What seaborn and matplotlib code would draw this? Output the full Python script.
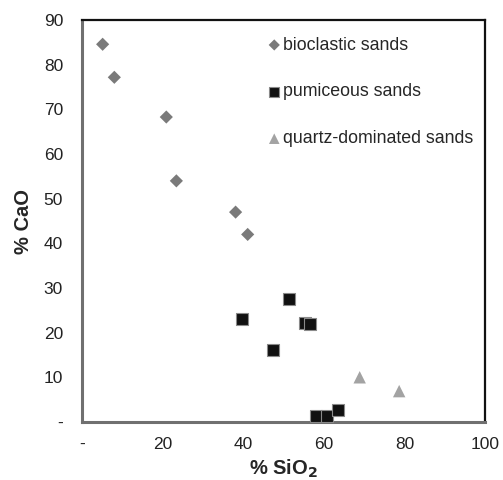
import matplotlib
matplotlib.use("Agg")
import matplotlib.pyplot as plt
import seaborn as sns
import pandas as pd

groups = ["bioclastic sands", "pumiceous sands", "quartz-dominated sands"]

bio_sio2 = [5.0, 7.9, 20.8, 23.3, 38.0, 41.0]
bio_cao = [84.6, 77.2, 68.3, 54.0, 47.0, 42.0]

pum_sio2 = [51.3, 39.5, 55.2, 56.4, 47.4, 57.9, 60.6, 63.4]
pum_cao = [27.5, 23.0, 22.1, 21.9, 16.1, 1.4, 1.4, 2.7]

qtz_sio2 = [68.8, 78.6]
qtz_cao = [10.0, 6.9]

x_ticks = [0, 20, 40, 60, 80, 100]
x_labels = ["-", "20", "40", "60", "80", "100"]
y_ticks = [0, 10, 20, 30, 40, 50, 60, 70, 80, 90]
y_labels = ["-", "10", "20", "30", "40", "50", "60", "70", "80", "90"]

df = pd.DataFrame({
    "SiO2": bio_sio2 + pum_sio2 + qtz_sio2,
    "CaO": bio_cao + pum_cao + qtz_cao,
    "group": [groups[0]] * len(bio_sio2) + [groups[1]] * len(pum_sio2) + [groups[2]] * len(qtz_sio2),
})

sns.set_style("white")
plt.rcParams["font.family"] = ["Liberation Sans", "DejaVu Sans"]

fig = plt.figure(figsize=(5.03, 4.80), dpi=100)
ax = fig.add_axes([0.164, 0.121, 0.801, 0.837])

palette = {groups[0]: "#7a7a7a", groups[1]: "#111111", groups[2]: "#a3a3a3"}
markers = {groups[0]: "D", groups[1]: "s", groups[2]: "^"}

for g, size in zip(groups, [45, 75, 80]):
    sub = df[df["group"] == g]
    sns.scatterplot(data=sub, x="SiO2", y="CaO", color=palette[g], marker=markers[g],
                    s=size, edgecolor="#8a8a8a" if g == groups[1] else "none",
                    linewidth=0.8 if g == groups[1] else 0, label=g, ax=ax, zorder=3)

ax.set_xlim(0, 100)
ax.set_ylim(0, 90)
ax.set_xticks(x_ticks)
ax.set_xticklabels(x_labels)
ax.set_yticks(y_ticks)
ax.set_yticklabels(y_labels)
ax.tick_params(axis="both", length=0, labelsize=12.5, colors="#222222")
ax.tick_params(axis="x", pad=11)
ax.tick_params(axis="y", pad=14)

ax.set_xlabel("% SiO$_\\mathbf{2}$", fontsize=14.5, fontweight="bold", labelpad=4)
ax.set_ylabel("% CaO", fontsize=14.5, fontweight="bold", labelpad=8)

for side in ["top", "right"]:
    ax.spines[side].set_color("#111111")
    ax.spines[side].set_linewidth(1.6)
for side in ["left", "bottom"]:
    ax.spines[side].set_color("#707070")
    ax.spines[side].set_linewidth(2.2)

leg = ax.legend(loc="upper left", bbox_to_anchor=(0.423, 0.99), frameon=False,
                fontsize=12.8, labelspacing=1.68, handletextpad=0.0,
                handlelength=1.0, borderaxespad=0.3, markerscale=0.85)

fig.savefig("out.png", dpi=100)
